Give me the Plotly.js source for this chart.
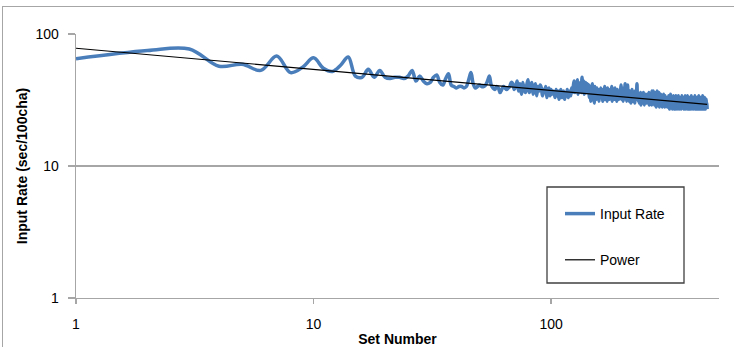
<!DOCTYPE html>
<html><head><meta charset="utf-8">
<script src="https://cdn.plot.ly/plotly-3.0.1.min.js"></script>
<style>
html,body{margin:0;padding:0;background:#fff;overflow:hidden;}
#chart{position:absolute;left:0;top:0;width:734px;height:347px;}
#frame{position:absolute;left:2px;top:6px;width:800px;height:400px;border:1.5px solid #a6a6a6;box-sizing:border-box;pointer-events:none;z-index:5;}
</style></head><body>
<div id="chart"></div><div id="frame"></div>
<script>
// Input Rate (sec/100cha) for set numbers 1..454
const inputRate = [
  // 1-55
  65,75,77,57,59,53,68,51,56,66,
  55,52,58,67,48,47,54,47,53,47,
  46,47,47,46,48,53,44,48,44,42,
  43,47,49,43,41,46,50,41,40,39,
  40,40,39,40,45,51,42,39,40,41,
  40,40,41,44,48,
  // 56-66
  41,39,38,40,39,36,38,40,39,38,39,
  // 67-71
  40,43,42,38,40,
  // 72-82
  44,37,42,35,43,38,36,41,45,36,40,
  // 83-90
  43,35,39,42,34,40,37,41,
  // 91-102
  39,34,38,36,40,33,37,39,34,38,35,37,
  // 103-120
  36,33,38,34,37,32,36,38,33,35,37,32,36,34,38,33,35,37,
  // 121-124
  34,39,36,40,
  // 125-142
  44,36,42,38,45,35,41,37,43,36,47,38,44,35,40,43,36,42,
  // 143-161
  37,41,33,39,31,38,42,34,36,30,40,35,32,39,34,37,31,38,35,
  // 162-195
  39,33,36,31,38,34,40,32,35,37,31,39,34,36,32,38,33,35,40,31,
  37,34,36,32,39,33,35,31,38,34,36,32,37,33,
  // 196-211
  36,41,32,38,34,31,39,35,33,42,34,37,31,36,41,33,
  // 212-232
  35,31,37,33,36,30,34,38,32,35,31,36,33,30,37,34,32,35,42,33,36,
  // 233-254
  31,35,30,34,32,36,29,33,35,31,34,30,36,32,29,34,31,35,30,33,32,35,
  // 255-268
  30,34,31,36,29,33,32,35,30,34,29,37,31,33,
  // 269-308
  37,31,34,29,36,32,30,35,28,33,37,31,29,34,32,36,30,28,33,31,
  35,29,32,30,34,28,33,31,29,35,30,32,28,34,31,29,33,30,32,28,
  // 309-454
  33,29,31,28,34,30,27,32,30,35,
  29,31,28,33,30,27,32,29,34,30,
  28,31,33,27,30,29,34,28,31,30,
  27,33,29,31,28,34,30,27,32,29,
  31,28,33,30,27,29,34,28,31,30,
  28,32,29,27,33,30,28,31,34,29,
  27,30,32,28,31,29,34,27,30,28,
  32,29,27,31,33,28,30,27,32,29,
  34,28,30,27,31,29,33,28,30,27,
  32,29,28,31,34,27,30,29,32,28,
  27,31,29,33,28,30,27,32,29,34,
  28,30,27,31,29,28,33,30,27,31,
  29,32,28,27,30,34,28,31,29,27,
  32,28,30,27,33,29,28,31,27,30,
  29,32,28,30,29,27
];
const setNumbers = inputRate.map((v, i) => i + 1);

// Power trendline y = a * x^b
const powerA = 78;
const powerB = -0.16;
const powerValues = setNumbers.map(x => powerA * Math.pow(x, powerB));

const xTickVals = [1, 10, 100];
const xTickText = ['1', '10', '100'];
const yTickVals = [1, 10, 100];
const yTickText = ['1', '10', '100'];

const font = 'Liberation Sans, Arial, sans-serif';

const traces = [
  {x: setNumbers, y: inputRate, name: 'Input Rate', type: 'scatter', mode: 'lines',
   line: {color: '#4a7ebb', width: 3.5, shape: 'spline', smoothing: 1}, legendgroup: 'a'},
  {x: setNumbers, y: powerValues, name: 'Power', type: 'scatter', mode: 'lines',
   line: {color: '#000000', width: 1.2}, legendgroup: 'b'}
];

const W = 643, H = 264;
const layout = {
  width: 734, height: 347,
  margin: {l: 76, r: 15, t: 34, b: 49, pad: 0},
  paper_bgcolor: '#ffffff', plot_bgcolor: '#ffffff',
  font: {family: font, size: 14, color: '#000'},
  showlegend: true,
  legend: {x: (560 - 76) / W, y: (298 - 198) / H, xanchor: 'left', yanchor: 'top',
    bgcolor: 'rgba(0,0,0,0)', borderwidth: 0, font: {family: font, size: 14, color: '#000'},
    traceorder: 'grouped', tracegroupgap: 25},
  xaxis: {type: 'log', range: [0, 2.707], tickvals: xTickVals, ticktext: xTickText,
    showgrid: false, zeroline: false, showline: true, linecolor: '#a6a6a6', linewidth: 1.3,
    ticks: 'outside', ticklen: 5, tickcolor: '#a6a6a6', tickwidth: 1.3,
    ticklabelstandoff: 8, tickfont: {family: font, size: 14, color: '#000'},
    title: {text: '<b>Set Number</b>', font: {family: font, size: 14, color: '#000'}, standoff: 6}},
  yaxis: {type: 'log', range: [0, 2], tickvals: yTickVals, ticktext: yTickText,
    showgrid: true, gridcolor: '#a6a6a6', gridwidth: 1.3, zeroline: false,
    showline: true, linecolor: '#a6a6a6', linewidth: 1.3,
    ticks: 'outside', ticklen: 7, tickcolor: '#a6a6a6', tickwidth: 1.3,
    ticklabelstandoff: 6, tickfont: {family: font, size: 14, color: '#000'},
    title: {text: '<b>Input Rate (sec/100cha)</b>', font: {family: font, size: 14, color: '#000'}, standoff: 4}},
  shapes: [
    {type: 'rect', xref: 'paper', yref: 'paper',
     x0: (547 - 76) / W, x1: (684 - 76) / W, y0: (298 - 283) / H, y1: (298 - 187) / H,
     line: {color: '#404040', width: 1.3}, fillcolor: 'rgba(0,0,0,0)', layer: 'above'}
  ]
};

Plotly.newPlot('chart', traces, layout, {displayModeBar: false, staticPlot: true});
</script></body></html>
